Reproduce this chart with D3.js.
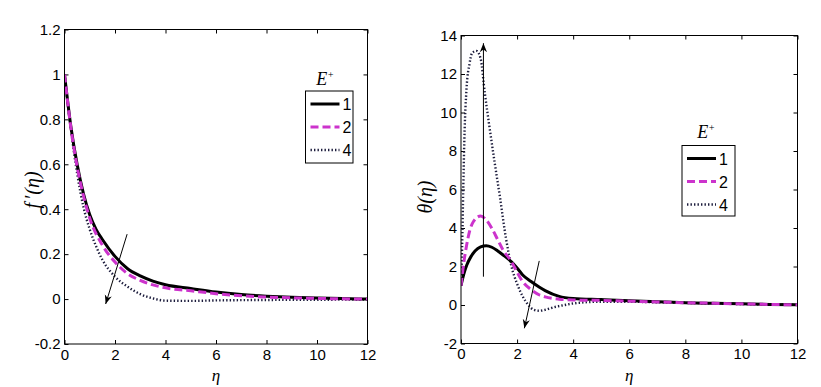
<!DOCTYPE html>
<html><head><meta charset="utf-8">
<script src="https://cdn.jsdelivr.net/npm/d3@7"></script>
<style>
body{margin:0;background:#fff;}
svg{display:block;}
.tick text{font-family:"Liberation Sans",Arial,sans-serif;font-size:15px;fill:#000;}
</style>
</head><body>
<svg id="c" width="821" height="387"></svg>
<script>
// ---------- DATA ----------
const seriesLabels = ["1", "2", "4"];
// Left panel: f'(eta)
const etaF1 = [0,0.25,0.5,0.75,1,1.25,1.5,2,2.5,3,3.5,4,5,6,7,8,9,10,11,12];
const fp1   = [1,0.77,0.6,0.47,0.375,0.31,0.265,0.19,0.135,0.103,0.08,0.064,0.047,0.031,0.02,0.013,0.008,0.005,0.002,0];
const etaF2 = [0,0.25,0.5,0.75,1,1.5,2,2.5,3,3.5,4,5,6,7,8,10,12];
const fp2   = [1,0.765,0.59,0.46,0.36,0.24,0.165,0.113,0.083,0.063,0.05,0.037,0.024,0.015,0.009,0.003,0];
const etaF4 = [0,0.25,0.5,0.75,1,1.25,1.5,2,2.5,3,3.5,4,5,6,8,10,12];
const fp4   = [1,0.76,0.56,0.41,0.31,0.235,0.175,0.1,0.055,0.022,0.003,-0.007,-0.008,-0.006,-0.004,-0.003,-0.002];
// Right panel: theta(eta)
const etaT1 = [0,0.1,0.2,0.35,0.5,0.7,0.9,1.1,1.3,1.5,1.8,2,2.2,2.5,2.8,3,3.5,4,5,6,7,8,9,10,11,12];
const th1   = [1,1.6,2.05,2.5,2.8,3.02,3.08,3.0,2.82,2.6,2.24,1.92,1.56,1.22,0.92,0.75,0.45,0.34,0.28,0.22,0.17,0.12,0.09,0.06,0.03,0.01];
const etaT2 = [0,0.1,0.2,0.3,0.45,0.7,0.9,1.1,1.3,1.5,1.8,2,2.2,2.5,2.8,3,3.5,4,5,6,7,8,9,10,11,12];
const th2   = [1,2.2,3.1,3.8,4.35,4.62,4.42,3.98,3.42,2.86,2.25,1.7,1.21,0.8,0.52,0.42,0.3,0.26,0.24,0.2,0.16,0.12,0.09,0.06,0.03,0.01];
const etaT4 = [0,0.04,0.08,0.12,0.2,0.3,0.4,0.55,0.7,0.85,1.0,1.2,1.4,1.6,1.8,2.0,2.2,2.4,2.6,2.8,3.0,3.3,3.7,4,5,6,7,8,9,10,11,12];
const th4   = [1,3,6,8.6,11.3,12.5,13.1,13.2,12.8,11.0,9.4,7.4,5.5,3.5,2.0,1.1,0.45,0.0,-0.25,-0.3,-0.25,-0.12,0.0,0.08,0.17,0.17,0.14,0.11,0.08,0.05,0.03,0.01];
// Ticks
const xTicks = [0,2,4,6,8,10,12];
const yTicksF = [-0.2,0,0.2,0.4,0.6,0.8,1,1.2];
const yTicksT = [-2,0,2,4,6,8,10,12,14];
// Annotation arrows (data coords)
const arrowsF = [{x1:2.48,y1:0.289,x2:1.63,y2:-0.022}];
const arrowsT = [{x1:0.8,y1:1.47,x2:0.8,y2:13.6},{x1:2.79,y1:2.29,x2:2.26,y2:-1.21}];

// ---------- STYLES ----------
const styles = [
  {stroke:"#000", width:3, dash:null},
  {stroke:"#cc33cc", width:3, dash:"8,4"},
  {stroke:"#1c1c3c", width:2.4, dash:"1.4,2.1"}
];

const svg = d3.select("#c");
svg.append("defs").append("marker")
  .attr("id","ah").attr("viewBox","0 0 10 10").attr("refX",10).attr("refY",5)
  .attr("markerWidth",9).attr("markerHeight",9).attr("markerUnits","userSpaceOnUse")
  .attr("orient","auto")
  .append("path").attr("d","M0,1 L10,5 L0,9 L3,5 Z").attr("fill","#000");

function panel(opt){
  const x = d3.scaleLinear().domain([0,12]).range(opt.xr);
  const y = d3.scaleLinear().domain(opt.yd).range(opt.yr);
  const g = svg.append("g");
  const fmt = d => String(+(+d).toFixed(1));
  g.append("g").attr("transform",`translate(0,${opt.yr[0]})`)
    .call(d3.axisBottom(x).tickValues(xTicks).tickSizeInner(-4).tickSizeOuter(0).tickPadding(5).tickFormat(fmt));
  g.append("g").attr("transform",`translate(${opt.xr[0]},0)`)
    .call(d3.axisLeft(y).tickValues(opt.yt).tickSizeInner(-4).tickSizeOuter(0).tickPadding(4).tickFormat(fmt));
  g.append("g").attr("transform",`translate(0,${opt.yr[1]})`)
    .call(d3.axisTop(x).tickValues(xTicks).tickSizeInner(-4).tickSizeOuter(0).tickFormat(""));
  g.append("g").attr("transform",`translate(${opt.xr[1]},0)`)
    .call(d3.axisRight(y).tickValues(opt.yt).tickSizeInner(-4).tickSizeOuter(0).tickFormat(""));
  g.selectAll(".domain").remove();
  g.selectAll(".tick line").attr("stroke","#000");

  const clipId = "clip"+opt.id;
  svg.append("clipPath").attr("id",clipId).append("rect")
    .attr("x",opt.xr[0]).attr("y",opt.yr[1]).attr("width",opt.xr[1]-opt.xr[0]).attr("height",opt.yr[0]-opt.yr[1]);

  const line = d3.line().x(d=>x(d[0])).y(d=>y(d[1])).curve(d3.curveMonotoneX);
  const lg = g.append("g").attr("clip-path",`url(#${clipId})`);
  const order = [2,0,1];
  order.forEach(i=>{
    const s = opt.series[i];
    const pts = s.x.map((v,k)=>[v,s.y[k]]);
    lg.append("path").attr("d",line(pts)).attr("fill","none")
      .attr("stroke",styles[i].stroke).attr("stroke-width",styles[i].width)
      .attr("stroke-dasharray",styles[i].dash).attr("stroke-linejoin","round");
  });

  opt.arrows.forEach(a=>{
    g.append("line").attr("x1",x(a.x1)).attr("y1",y(a.y1)).attr("x2",x(a.x2)).attr("y2",y(a.y2))
      .attr("stroke","#000").attr("stroke-width",1).attr("marker-end","url(#ah)");
  });

  g.append("rect").attr("x",opt.xr[0]).attr("y",opt.yr[1])
    .attr("width",opt.xr[1]-opt.xr[0]).attr("height",opt.yr[0]-opt.yr[1])
    .attr("fill","none").attr("stroke","#000").attr("stroke-width",1);

  // axis labels
  g.append("text").attr("x",(opt.xr[0]+opt.xr[1])/2).attr("y",381)
    .attr("text-anchor","middle").attr("font-family","Liberation Serif, Times New Roman, serif")
    .attr("font-style","italic").attr("font-size",17).text("η");
  const yl = g.append("text").attr("transform",`translate(${opt.ylx},${opt.yly}) rotate(-90)`)
    .attr("text-anchor","middle").attr("font-family","Liberation Serif, Times New Roman, serif")
    .attr("font-style","italic").attr("font-size",20);
  opt.ylabel.forEach(p=>{
    const ts = yl.append("tspan").text(p.t);
    if(p.dx) ts.attr("dx",p.dx);
  });

  // legend
  const L = opt.leg;
  const lgd = g.append("g");
  const t = lgd.append("text").attr("x",L.tx).attr("y",L.ty).attr("text-anchor","middle")
    .attr("font-family","Liberation Serif, Times New Roman, serif").attr("font-style","italic").attr("font-size",18);
  t.append("tspan").text("E");
  t.append("tspan").attr("font-size",10).attr("dy",-7).text("+");
  lgd.append("rect").attr("x",L.x).attr("y",L.y).attr("width",L.w).attr("height",L.h)
    .attr("fill","#fff").attr("stroke","#000").attr("stroke-width",1);
  seriesLabels.forEach((lab,i)=>{
    const yy = L.y + 13 + i*23;
    lgd.append("line").attr("x1",L.x+5).attr("x2",L.x+34).attr("y1",yy).attr("y2",yy)
      .attr("stroke",styles[i].stroke).attr("stroke-width",styles[i].width).attr("stroke-dasharray",styles[i].dash);
    lgd.append("text").attr("x",L.x+37).attr("y",yy+6).attr("font-family","Liberation Sans, Arial, sans-serif")
      .attr("font-size",16).text(lab);
  });
}

panel({
  id:"F", xr:[64.5,367.5], yd:[-0.2,1.2], yr:[344,29.5], yt:yTicksF,
  series:[{x:etaF1,y:fp1},{x:etaF2,y:fp2},{x:etaF4,y:fp4}],
  arrows:arrowsF, ylabel:[{t:"f"},{t:"′",dx:3},{t:"(η)",dx:1}], ylx:39, yly:190,
  leg:{x:305.5,y:91,w:47.5,h:72,tx:325,ty:85}
});
panel({
  id:"T", xr:[461,797.5], yd:[-2,14], yr:[343.5,35.5], yt:yTicksT,
  series:[{x:etaT1,y:th1},{x:etaT2,y:th2},{x:etaT4,y:th4}],
  arrows:arrowsT, ylabel:[{t:"θ(η)"}], ylx:432, yly:197,
  leg:{x:682,y:145.5,w:53,h:70.5,tx:706,ty:138}
});
</script>
</body></html>
